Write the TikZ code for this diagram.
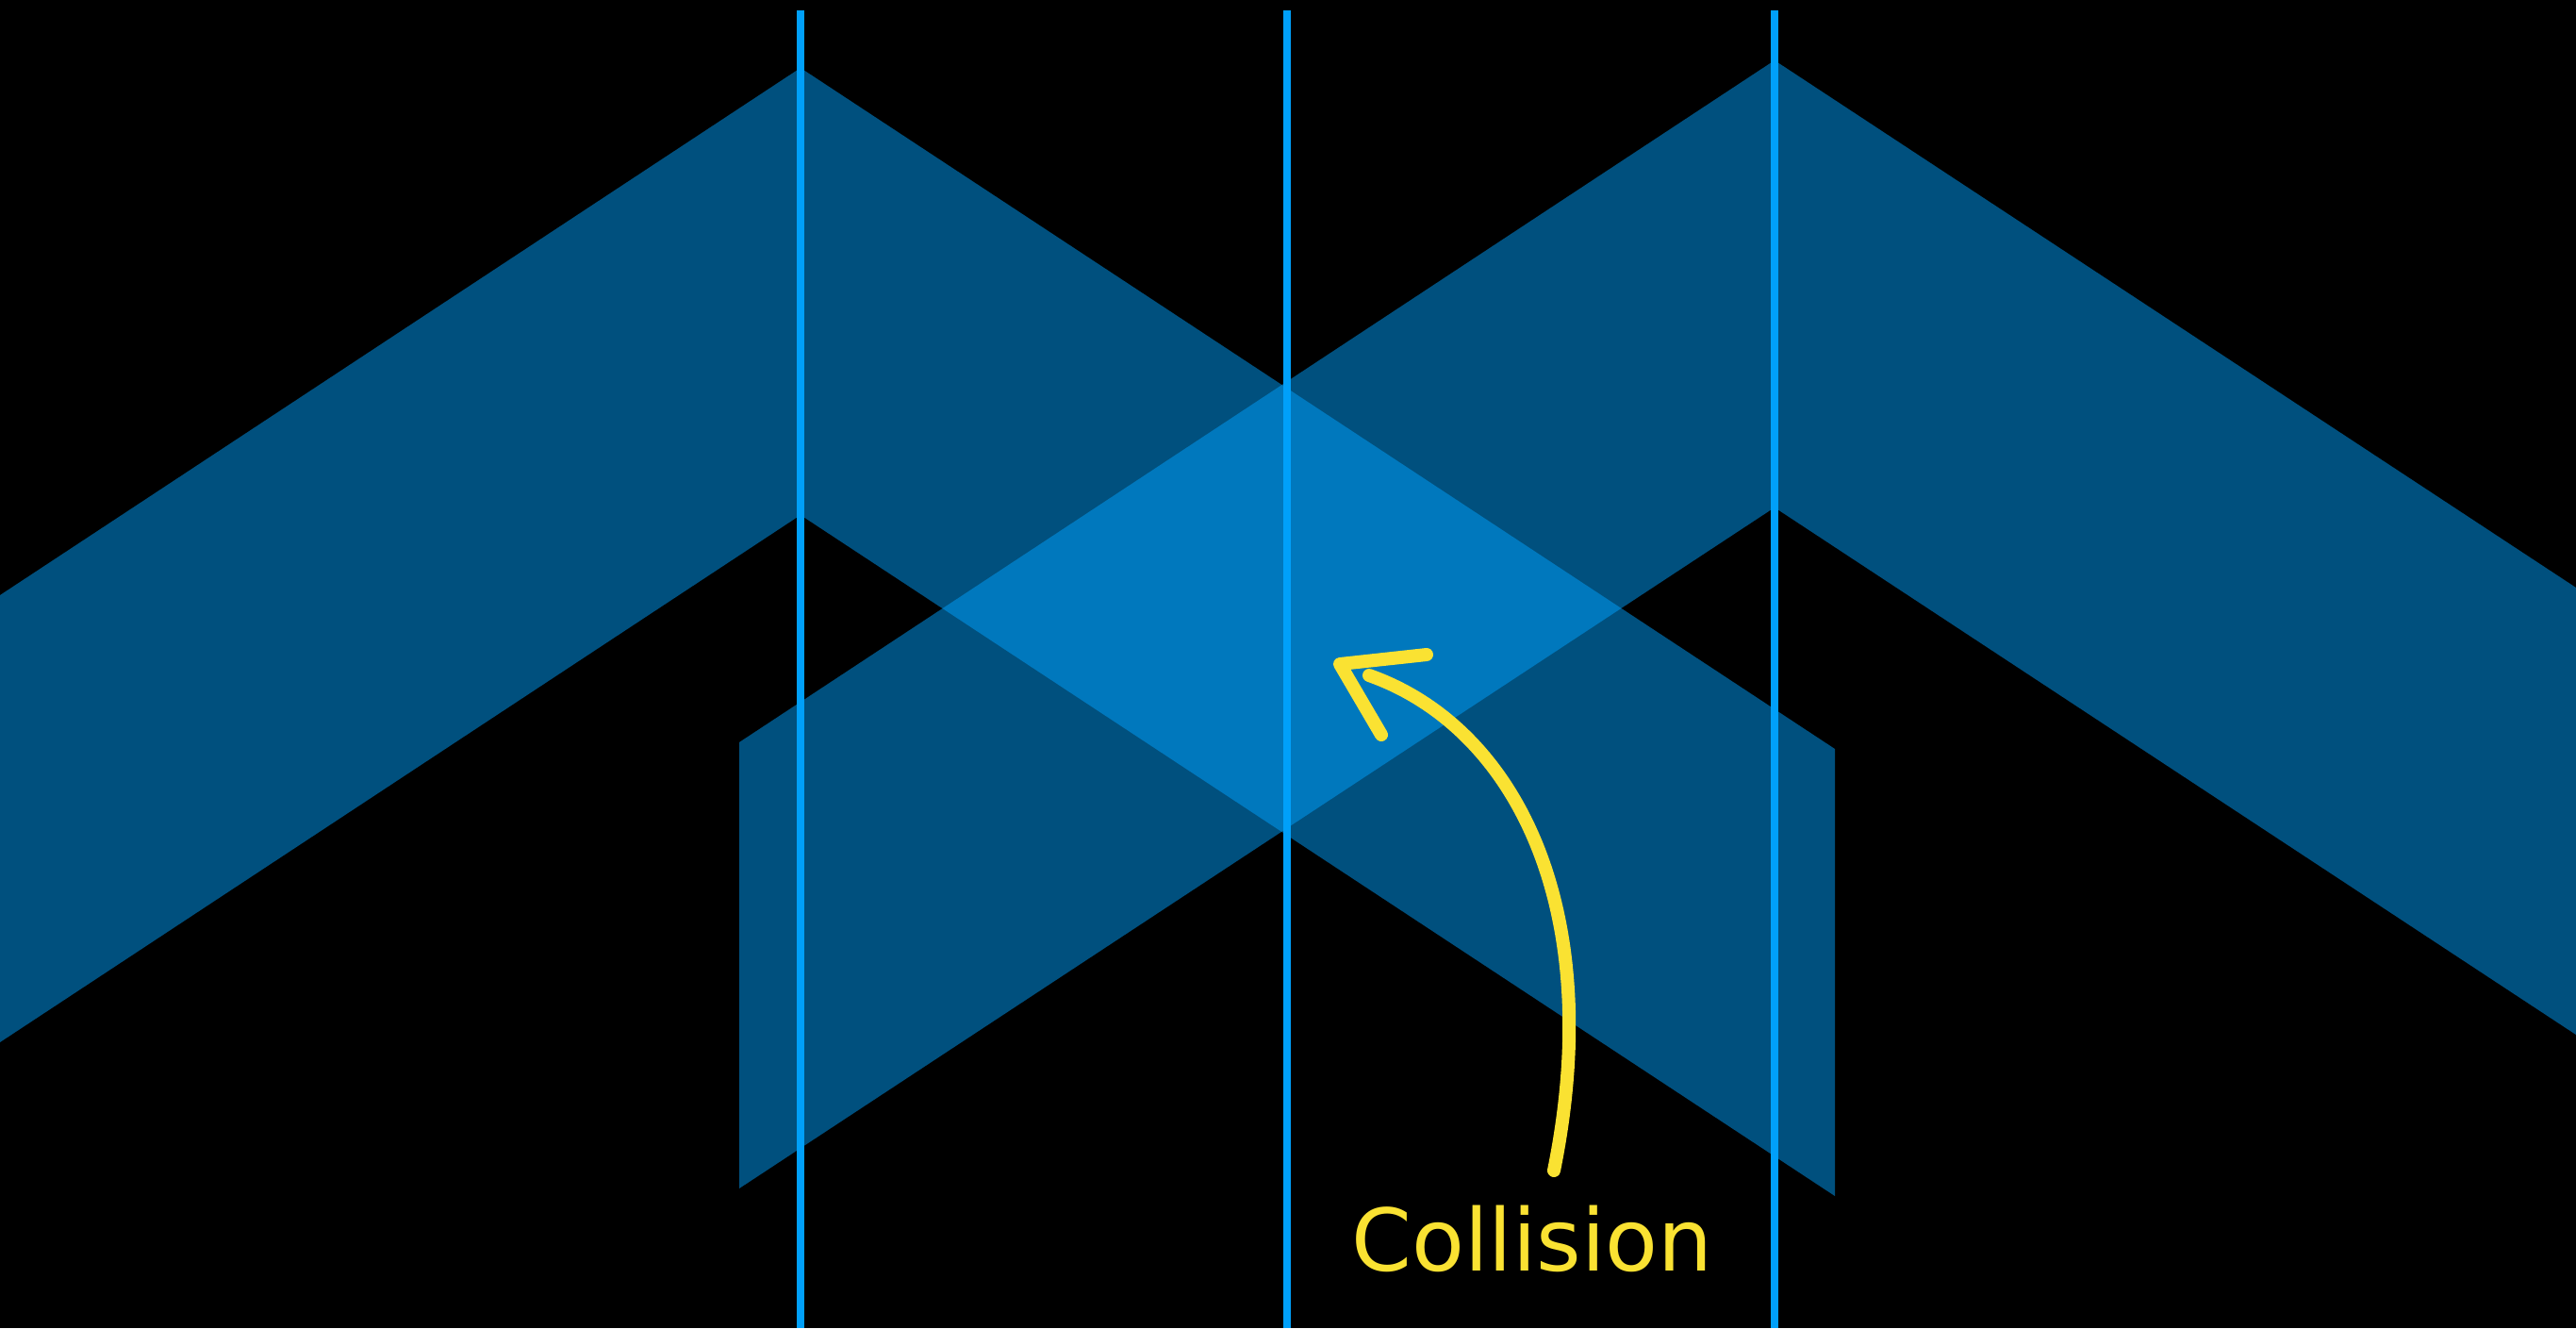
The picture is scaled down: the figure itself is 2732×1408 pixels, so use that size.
\documentclass[tikz,border=0pt]{standalone}
\usepackage{fontspec}
\newfontfamily\handfont{DejaVu Sans}
\definecolor{bandblue}{RGB}{0,160,252}
\definecolor{guideblue}{RGB}{0,160,250}
\definecolor{chalk}{RGB}{250,226,50}
\begin{document}
\begin{tikzpicture}[x=0.01cm,y=-0.01cm,
  band/.style={fill=bandblue,fill opacity=0.5},
  guide/.style={draw=guideblue,line width=0.08cm},
  chalkline/.style={draw=chalk,line width=0.14cm,line cap=round,line join=round}]
\fill[black] (0,0) rectangle (2732,1408);
\useasboundingbox (0,0) rectangle (2732,1408);
% left chevron (right arm extended, cut vertically)
\fill[band] (0,631) -- (849,72) -- (1946,794) -- (1946,1268) -- (849,546) -- (0,1105) -- cycle;
% right chevron (left arm extended, cut vertically)
\fill[band] (784,787) -- (1882,64) -- (2732,623) -- (2732,1097) -- (1882,538) -- (784,1260) -- cycle;
% guide lines
\coordinate (g1top) at (849,11);  \coordinate (g1bot) at (849,1408);
\coordinate (g2top) at (1365,11); \coordinate (g2bot) at (1365,1408);
\coordinate (g3top) at (1882,11); \coordinate (g3bot) at (1882,1408);
\draw[guide] (g1top) -- (g1bot);
\draw[guide] (g2top) -- (g2bot);
\draw[guide] (g3top) -- (g3bot);
% chalk arrow
\coordinate (tail) at (1648,1241);
\coordinate (shaftend) at (1452,716);
\coordinate (headup) at (1513,694);
\coordinate (tip) at (1421,704);
\coordinate (headlow) at (1465,779);
\draw[chalkline] (tail) .. controls (1705,960) and (1605,770) .. (shaftend);
\draw[chalkline] (headup) -- (tip) -- (headlow);
% label
\node[text=chalk,font=\handfont\fontsize{26}{30}\selectfont,anchor=base,inner sep=0pt] (label) at (1625,1347) {Collision};
\end{tikzpicture}
\end{document}
